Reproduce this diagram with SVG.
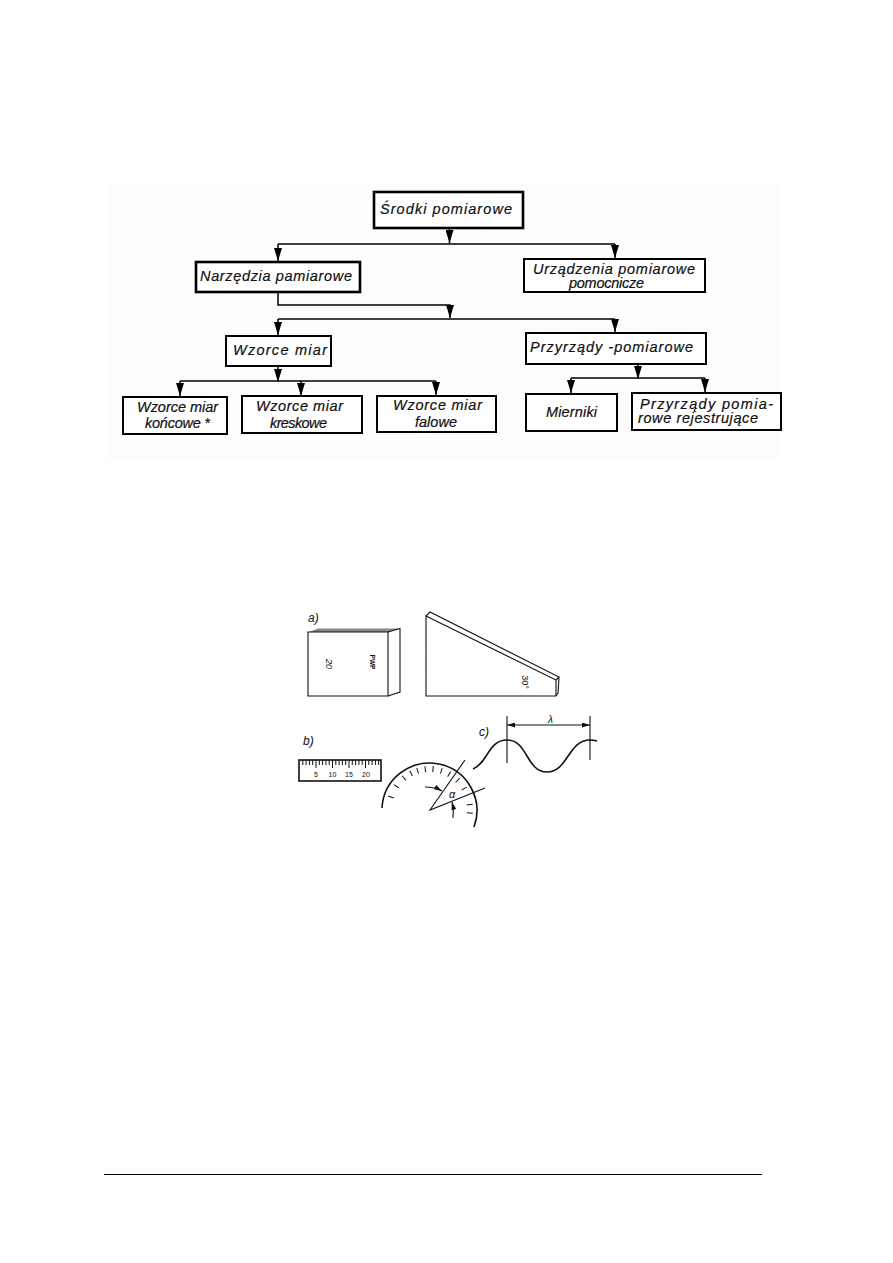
<svg xmlns="http://www.w3.org/2000/svg" width="893" height="1263" viewBox="0 0 893 1263">
  <style>
    .box { fill: #fff; stroke: #000; stroke-width: 2; }
    .thick { stroke-width: 2.6; }
    .conn { fill: none; stroke: #000; stroke-width: 1.5; }
    .lbl { font-family: "Liberation Sans", Arial, sans-serif; font-style: italic; font-size: 14.5px; fill: #111; stroke: #111; stroke-width: 0.2; }
    .ln { fill: none; stroke: #111; stroke-width: 1.1; }
    .ln2 { fill: none; stroke: #111; stroke-width: 1.6; }
    .tick { stroke: #111; stroke-width: 1; }
    .small { font-family: "Liberation Sans", Arial, sans-serif; font-size: 7px; fill: #111; text-anchor: middle; }
    .fig { font-family: "Liberation Sans", Arial, sans-serif; font-style: italic; font-size: 12px; fill: #111; }
  </style>
  <defs>
    <marker id="ah" markerUnits="userSpaceOnUse" markerWidth="13" markerHeight="8" refX="13" refY="4" orient="auto" viewBox="0 0 13 8">
      <path d="M0 0 L0 8 L13 4 Z" fill="#000"/>
    </marker>
    <marker id="dim" markerUnits="userSpaceOnUse" markerWidth="8" markerHeight="5" refX="8" refY="2.5" orient="auto-start-reverse" viewBox="0 0 8 5">
      <path d="M0 0 L8 2.5 L0 5 Z" fill="#111"/>
    </marker>
  </defs>
  <rect width="893" height="1263" fill="#fff"/>
  <rect x="107" y="182" width="673" height="278" fill="#fdfdfd"/>

  <g id="connectors">
    <path class="conn" d="M278 244 H615"/>
    <path class="conn" d="M449.500 228 V243" marker-end="url(#ah)"/>
    <path class="conn" d="M278 244 V261" marker-end="url(#ah)"/>
    <path class="conn" d="M615 244 V258" marker-end="url(#ah)"/>
    <path class="conn" d="M278 292 V305 H450 V318" marker-end="url(#ah)"/>
    <path class="conn" d="M278 319 H615"/>
    <path class="conn" d="M278 319 V335" marker-end="url(#ah)"/>
    <path class="conn" d="M615 319 V332" marker-end="url(#ah)"/>
    <path class="conn" d="M180 381 H436"/>
    <path class="conn" d="M278 366 V382" marker-end="url(#ah)"/>
    <path class="conn" d="M180 381 V396" marker-end="url(#ah)"/>
    <path class="conn" d="M301 381 V396" marker-end="url(#ah)"/>
    <path class="conn" d="M436 381 V395" marker-end="url(#ah)"/>
    <path class="conn" d="M571 378 H705"/>
    <path class="conn" d="M638 364 V379" marker-end="url(#ah)"/>
    <path class="conn" d="M571 378 V393" marker-end="url(#ah)"/>
    <path class="conn" d="M705 378 V392" marker-end="url(#ah)"/>
  </g>

  <g id="srodki">
    <rect class="box thick" x="374" y="192" width="149" height="36"/>
    <text class="lbl" x="380" y="214" textLength="132">Środki pomiarowe</text>
  </g>
  <g id="narzedzia">
    <rect class="box thick" x="196" y="262" width="164" height="30"/>
    <text class="lbl" x="200" y="281" textLength="152">Narzędzia pamiarowe</text>
  </g>
  <g id="urzadzenia">
    <rect class="box" x="524" y="259" width="181" height="33"/>
    <text class="lbl" x="533" y="274" textLength="162">Urządzenia pomiarowe</text>
    <text class="lbl" x="569" y="288" textLength="75">pomocnicze</text>
  </g>
  <g id="wzorce">
    <rect class="box" x="226" y="336" width="105" height="30"/>
    <text class="lbl" x="233" y="355" textLength="94">Wzorce miar</text>
  </g>
  <g id="przyrzady">
    <rect class="box" x="526" y="333" width="180" height="31"/>
    <text class="lbl" x="530" y="352" textLength="163">Przyrządy -pomiarowe</text>
  </g>
  <g id="koncowe">
    <rect class="box" x="123" y="397" width="104" height="37"/>
    <text class="lbl" x="137" y="412" textLength="81">Wzorce miar</text>
    <text class="lbl" x="145" y="428" textLength="65">końcowe *</text>
  </g>
  <g id="kreskowe">
    <rect class="box" x="242" y="396" width="120" height="37"/>
    <text class="lbl" x="256" y="411" textLength="87">Wzorce miar</text>
    <text class="lbl" x="270" y="428" textLength="57">kreskowe</text>
  </g>
  <g id="falowe">
    <rect class="box" x="377" y="396" width="119" height="36"/>
    <text class="lbl" x="393" y="410" textLength="89">Wzorce miar</text>
    <text class="lbl" x="415" y="427" textLength="42">falowe</text>
  </g>
  <g id="mierniki">
    <rect class="box" x="526" y="394" width="91" height="37"/>
    <text class="lbl" x="546" y="417" textLength="51">Mierniki</text>
  </g>
  <g id="rejestrujace">
    <rect class="box" x="632" y="393" width="149" height="37"/>
    <text class="lbl" x="640" y="409" textLength="133">Przyrządy pomia-</text>
    <text class="lbl" x="638" y="423" textLength="120">rowe rejestrujące</text>
  </g>

  <!-- a) gauge block and angle block -->
  <text class="fig" x="308" y="622">a)</text>
  <path d="M309 632 L318 628.5 H400 L388 632 Z" fill="#888"/>
  <path class="ln" d="M308 632 H388 V696 H308 Z"/>
  <path class="ln" d="M388 632 L400 628.5 V692 L388 696"/>
  <text class="small" transform="translate(326 664) rotate(90)" style="font-size:9px;font-style:italic">20</text>
  <text class="small" transform="translate(370 662) rotate(90)" style="font-size:6.500px;font-weight:bold">PWP</text>
  <path class="ln" d="M426 696 V616 L430 612 L559 677 L558 693 L556 696 Z"/>
  <path class="ln" d="M426 616 L556 680 V696"/>
  <path class="ln" d="M556 680 L559 677"/>
  <text class="small" transform="translate(522 682) rotate(90)" style="font-size:9px">30°</text>

  <!-- b) line scale and protractor -->
  <text class="fig" x="303" y="745">b)</text>
  <rect class="ln2" x="299" y="760" width="82" height="21"/>
  <path class="tick" fill="none" d="M302.800 760V765M306.100 760V765M309.400 760V765M312.700 760V765M316 760V768M319.300 760V765M322.600 760V765M325.900 760V765M329.200 760V765M332.500 760V768M335.800 760V765M339.100 760V765M342.400 760V765M345.700 760V765M349 760V768M352.300 760V765M355.600 760V765M358.900 760V765M362.200 760V765M365.500 760V768M368.800 760V765M372.100 760V765M375.400 760V765M378.700 760V765"/>
  <text class="small" x="316" y="777">5</text>
  <text class="small" x="332.500" y="777">10</text>
  <text class="small" x="349" y="777">15</text>
  <text class="small" x="366" y="777">20</text>

  <path class="ln2" d="M382 808 A47.500 47.500 0 1 1 474 827"/>
  <g class="tick" id="dial-ticks">
    <line x1="429.500" y1="766" x2="429.500" y2="772" transform="rotate(-72 429.500 809.500)"/>
    <line x1="429.500" y1="766" x2="429.500" y2="772" transform="rotate(-55 429.500 809.500)"/>
    <line x1="429.500" y1="766" x2="429.500" y2="772" transform="rotate(-39 429.500 809.500)"/>
    <line x1="429.500" y1="766" x2="429.500" y2="772" transform="rotate(-27 429.500 809.500)"/>
    <line x1="429.500" y1="766" x2="429.500" y2="772" transform="rotate(-17 429.500 809.500)"/>
    <line x1="429.500" y1="766" x2="429.500" y2="772" transform="rotate(-6 429.500 809.500)"/>
    <line x1="429.500" y1="766" x2="429.500" y2="772" transform="rotate(5 429.500 809.500)"/>
    <line x1="429.500" y1="766" x2="429.500" y2="772" transform="rotate(17 429.500 809.500)"/>
    <line x1="429.500" y1="766" x2="429.500" y2="772" transform="rotate(29 429.500 809.500)"/>
    <line x1="429.500" y1="766" x2="429.500" y2="772" transform="rotate(44 429.500 809.500)"/>
    <line x1="429.500" y1="766" x2="429.500" y2="772" transform="rotate(59 429.500 809.500)"/>
    <line x1="429.500" y1="766" x2="429.500" y2="772" transform="rotate(83 429.500 809.500)"/>
    <line x1="429.500" y1="766" x2="429.500" y2="772" transform="rotate(95 429.500 809.500)"/>
  </g>
  <path class="ln" d="M465 760 L430 810 L485 788"/>
  <path class="ln" d="M425 787 Q435 787 442 791" marker-end="url(#dim)"/>
  <path class="ln" d="M453 818 Q454 810 452 802" marker-end="url(#dim)"/>
  <text class="fig" x="449" y="798" style="font-size:11px">α</text>

  <!-- c) light wave -->
  <text class="fig" x="479" y="736">c)</text>
  <path class="ln2" d="M473 769 C488 763 488 740 507 740 C528 740 526 772 547 772 C568 772 568 740 590 740 Q594 740 597 741"/>
  <path class="ln" d="M507 716 V763 M590 716 V760"/>
  <path class="ln" d="M507 725 H590" marker-start="url(#dim)" marker-end="url(#dim)"/>
  <text class="fig" x="548" y="723" style="font-size:10px">λ</text>

  <path d="M104 1174.500 H762" fill="none" stroke="#000" stroke-width="1"/>
</svg>
